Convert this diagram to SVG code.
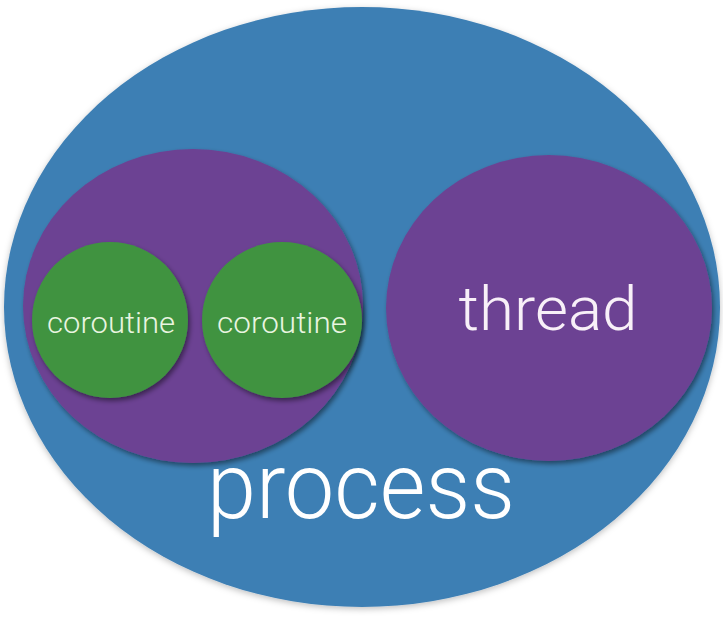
<svg xmlns="http://www.w3.org/2000/svg" width="723" height="622" viewBox="0 0 723 622">
<defs>
<filter id="sh" x="-10%" y="-10%" width="120%" height="120%">
<feDropShadow dx="2" dy="3" stdDeviation="2.5" flood-color="#000" flood-opacity="0.45"/>
</filter>
<filter id="shb" x="-10%" y="-10%" width="120%" height="120%">
<feDropShadow dx="0" dy="2" stdDeviation="3" flood-color="#000" flood-opacity="0.25"/>
</filter>
</defs>
<style>
.blue{fill:#3e7fb4}
.purple{fill:#6c4393}
.green{fill:#3f9341}
.t{font-family:Roboto,"Liberation Sans",Arial,sans-serif;font-weight:300;text-anchor:middle}
.small{font-size:29px;fill:#e9f5e0}
.mid{font-size:62px;fill:#f8f0f8}
.big{font-size:92px;fill:#ffffff}
</style>
<rect width="723" height="622" fill="#ffffff"/>
<g id="process">
<ellipse class="blue" cx="362" cy="307" rx="358" ry="300" filter="url(#shb)"/>
<text class="t big" x="361" y="518" textLength="308" lengthAdjust="spacingAndGlyphs">process</text>
</g>
<g id="thread-left">
<ellipse class="purple" cx="193" cy="306" rx="170" ry="157" filter="url(#sh)"/>
</g>
<g id="coroutine-1">
<ellipse class="green" cx="110" cy="320" rx="78" ry="78" filter="url(#sh)"/>
<text class="t small" x="111" y="333" textLength="128" lengthAdjust="spacingAndGlyphs">coroutine</text>
</g>
<g id="coroutine-2">
<ellipse class="green" cx="282" cy="320" rx="80" ry="78" filter="url(#sh)"/>
<text class="t small" x="282" y="333" textLength="130" lengthAdjust="spacingAndGlyphs">coroutine</text>
</g>
<g id="thread">
<ellipse class="purple" cx="549" cy="308" rx="163" ry="153" filter="url(#sh)"/>
<text class="t mid" x="548" y="330" textLength="179" lengthAdjust="spacingAndGlyphs">thread</text>
</g>
<g id="connectors"/>
</svg>
